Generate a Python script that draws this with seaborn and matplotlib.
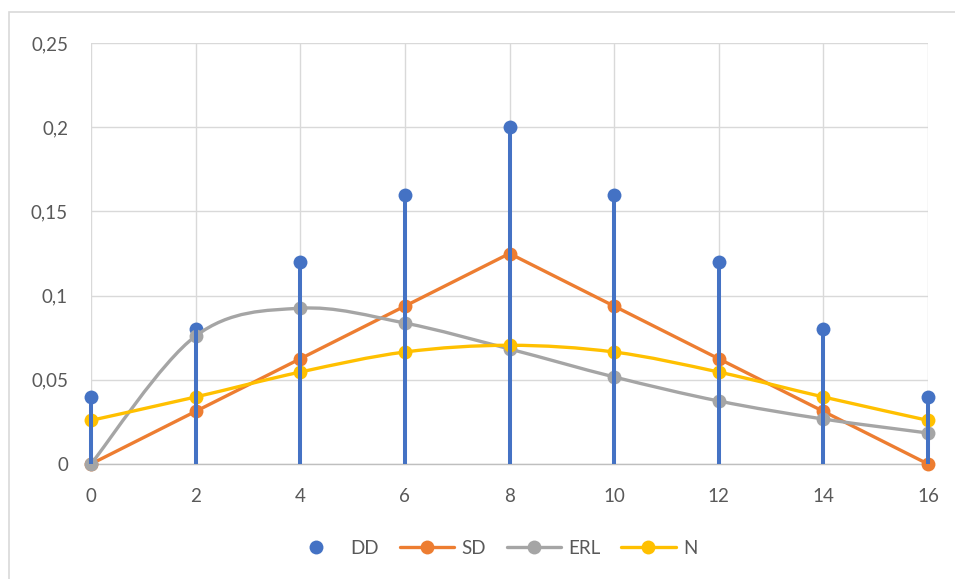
import numpy as np
import matplotlib
matplotlib.use("Agg")
import matplotlib.pyplot as plt
import seaborn as sns
import pandas as pd
from matplotlib.path import Path
from matplotlib.patches import PathPatch, Rectangle
from matplotlib.lines import Line2D

x = [0, 2, 4, 6, 8, 10, 12, 14, 16]
dd = [0.04, 0.08, 0.12, 0.16, 0.20, 0.16, 0.12, 0.08, 0.04]
sd = [0.0, 0.03125, 0.0625, 0.09375, 0.125, 0.09375, 0.0625, 0.03125, 0.0]
erl = [0.0, 0.076, 0.0925, 0.0837, 0.0683, 0.0517, 0.0374, 0.0267, 0.0184]
nn = [0.0259, 0.0398, 0.0546, 0.0665, 0.0705, 0.0665, 0.0546, 0.0398, 0.0259]
yticks = [0, 0.05, 0.1, 0.15, 0.2, 0.25]
ytick_labels = ["0", "0,05", "0,1", "0,15", "0,2", "0,25"]
xticks = [0, 2, 4, 6, 8, 10, 12, 14, 16]

C_DD, C_SD, C_ERL, C_N = "#4472C4", "#ED7D31", "#A5A5A5", "#FFC000"
TXT = "#595959"
GRID = "#D9D9D9"

sns.set_theme(style="white")
plt.rcParams["font.family"] = ["Lato", "DejaVu Sans"]

W, H = 955, 579
fig = plt.figure(figsize=(W / 100, H / 100), dpi=100)
ax = fig.add_axes([91 / W, (H - 464) / H, (928 - 91) / W, (464 - 43) / H])

# chart border (only top and left visible, the rest is cropped)
fig.patches.append(Rectangle((9 / W, -10 / H), (W + 20) / W, (H - 12 + 10) / H,
                             transform=fig.transFigure, fill=False, edgecolor=GRID, lw=1.2))

df = pd.DataFrame({"x": x, "DD": dd, "SD": sd, "ERL": erl, "N": nn})

MS = 10.0
LW = 2.4


def smooth_path(xs, ys):
    pts = np.column_stack([xs, ys]).astype(float)
    verts = [pts[0]]
    codes = [Path.MOVETO]
    n = len(pts)
    for i in range(n - 1):
        p0 = pts[i - 1] if i > 0 else pts[i]
        p1 = pts[i]
        p2 = pts[i + 1]
        p3 = pts[i + 2] if i + 2 < n else pts[i + 1]
        c1 = p1 + (p2 - p0) / 6.0
        c2 = p2 - (p3 - p1) / 6.0
        verts += [c1, c2, p2]
        codes += [Path.CURVE4] * 3
    return Path(verts, codes)


# DD markers
sns.scatterplot(data=df, x="x", y="DD", ax=ax, color=C_DD, s=MS ** 2,
                linewidth=0, zorder=3, legend=False, clip_on=False)
# SD straight line
sns.lineplot(data=df, x="x", y="SD", ax=ax, color=C_SD, lw=LW, marker="o",
             markersize=MS, markeredgewidth=0, zorder=4, legend=False, clip_on=False)
# ERL smoothed
ax.add_patch(PathPatch(smooth_path(x, erl), fill=False, edgecolor=C_ERL, lw=LW, zorder=5,
                       capstyle="round", joinstyle="round", clip_on=False))
sns.scatterplot(data=df, x="x", y="ERL", ax=ax, color=C_ERL, s=MS ** 2,
                linewidth=0, zorder=5, legend=False, clip_on=False)
# N smoothed
ax.add_patch(PathPatch(smooth_path(x, nn), fill=False, edgecolor=C_N, lw=LW, zorder=6,
                       capstyle="round", joinstyle="round", clip_on=False))
sns.scatterplot(data=df, x="x", y="N", ax=ax, color=C_N, s=MS ** 2,
                linewidth=0, zorder=6, legend=False, clip_on=False)
# DD stems (error bars) on top
ax.vlines(x, 0, dd, color=C_DD, lw=2.9, zorder=7, clip_on=False)

ax.set_xlim(0, 16)
ax.set_ylim(0, 0.25)
ax.set_xticks(xticks)
ax.set_xticklabels([str(v) for v in xticks])
ax.set_yticks(yticks)
ax.set_yticklabels(ytick_labels)
ax.set_xlabel("")
ax.set_ylabel("")
ax.grid(True, color=GRID, lw=1.0, zorder=0)
ax.set_axisbelow(True)
for s in ["top", "right", "left"]:
    ax.spines[s].set_visible(False)
ax.spines["bottom"].set_color("#BFBFBF")
ax.spines["bottom"].set_linewidth(1.0)
ax.tick_params(axis="both", length=0, labelsize=13.5, labelcolor=TXT)
ax.tick_params(axis="x", pad=17)
ax.tick_params(axis="y", pad=16.5)

handles = [
    Line2D([], [], color=C_DD, marker="o", lw=0, markersize=MS, markeredgewidth=0),
    Line2D([], [], color=C_SD, marker="o", lw=LW, markersize=MS, markeredgewidth=0),
    Line2D([], [], color=C_ERL, marker="o", lw=LW, markersize=MS, markeredgewidth=0),
    Line2D([], [], color=C_N, marker="o", lw=LW, markersize=MS, markeredgewidth=0),
]
leg = fig.legend(handles, ["DD", "SD", "ERL", "N"], loc="center",
                 bbox_to_anchor=(493 / W, (H - 548) / H), ncol=4, frameon=False,
                 fontsize=13.5, handlelength=2.9, columnspacing=1.1, handletextpad=0.4,
                 labelcolor=TXT)

fig.savefig("out.png", dpi=100)
